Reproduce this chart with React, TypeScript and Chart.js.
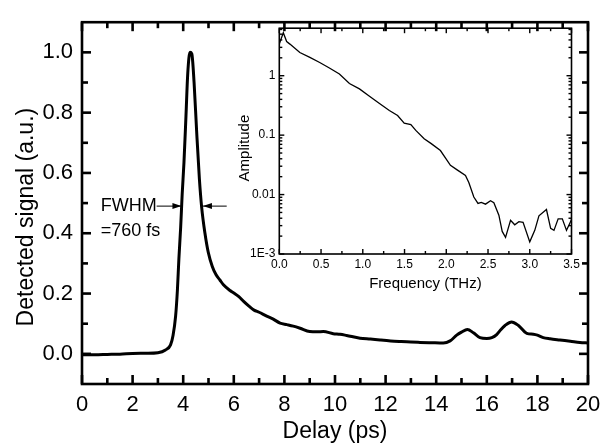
import React, { useEffect, useRef } from "react";
import { Chart, registerables } from "chart.js";

Chart.register(...registerables);

// ---------- main trace: detected signal vs delay ----------
const delayPs = [
  0, 0.5, 1, 1.5, 2, 2.5, 3, 3.3, 3.5, 3.6, 3.7, 3.77, 3.83, 3.9, 3.96, 4.03, 4.11, 4.18, 4.27, 4.34,
  4.43, 4.53, 4.64, 4.73, 4.86, 4.99, 5.15, 5.3, 5.45, 5.6, 5.85, 6.0, 6.2, 6.4, 6.6, 6.8, 7.0, 7.3,
  7.56, 7.83, 8.1, 8.35, 8.62, 9.0, 9.3, 9.54, 9.93, 10.2, 10.46, 10.99, 11.4, 11.78, 12.2, 12.57, 13.0,
  13.36, 13.8, 14.28, 14.55, 14.81, 15.0, 15.23, 15.47, 15.73, 16.0, 16.2, 16.39, 16.55, 16.72, 16.98,
  17.25, 17.58, 17.84, 18.0, 18.23, 18.5, 18.89, 19.3, 19.68, 20,
];
const signal = [
  -0.003, -0.003, -0.002, -0.001, 0.001, 0.002, 0.004, 0.013, 0.03, 0.062, 0.125, 0.21, 0.316, 0.42,
  0.53, 0.634, 0.79, 0.93, 1.0, 0.995, 0.9, 0.74, 0.58, 0.486, 0.4, 0.337, 0.29, 0.262, 0.245, 0.228,
  0.21, 0.202, 0.19, 0.173, 0.158, 0.145, 0.138, 0.125, 0.115, 0.102, 0.097, 0.092, 0.085, 0.074, 0.073,
  0.074, 0.067, 0.065, 0.061, 0.052, 0.049, 0.046, 0.043, 0.041, 0.039, 0.038, 0.037, 0.036, 0.043,
  0.062, 0.072, 0.081, 0.07, 0.054, 0.051, 0.054, 0.064, 0.08, 0.094, 0.106, 0.094, 0.068, 0.065, 0.062,
  0.054, 0.05, 0.046, 0.042, 0.038, 0.036,
];
const delayTicks = [0, 2, 4, 6, 8, 10, 12, 14, 16, 18, 20];
const delayMinorTicks = [1, 3, 5, 7, 9, 11, 13, 15, 17, 19];
const signalTicks = [0, 0.2, 0.4, 0.6, 0.8, 1.0];
const signalMinorTicks = [0.1, 0.3, 0.5, 0.7, 0.9];

// FWHM annotation (data coordinates)
const fwhmText = "FWHM";
const fwhmValueText = "=760 fs";
const fwhmLevel = 0.49;
const fwhmTextDelay = 0.74;
const fwhmValueLevel = 0.407;
const fwhmLeftArrow = [2.95, 3.93];
const fwhmRightArrow = [5.72, 4.78];

// ---------- inset: amplitude spectrum ----------
const freqTHz = [
  0, 0.048, 0.088, 0.127, 0.246, 0.366, 0.484, 0.6, 0.72, 0.84, 0.96, 1.08, 1.2, 1.318, 1.417, 1.496,
  1.576, 1.635, 1.735, 1.82, 1.93, 2.05, 2.13, 2.23, 2.27, 2.33, 2.38, 2.42, 2.47, 2.53, 2.57, 2.63,
  2.67, 2.71, 2.77, 2.82, 2.87, 2.92, 3.0, 3.06, 3.11, 3.2, 3.25, 3.29, 3.34, 3.39, 3.44, 3.48, 3.5,
];
const amplitude = [
  3.4, 5.3, 3.76, 3.4, 2.46, 2.03, 1.67, 1.35, 1.07, 0.74, 0.6, 0.45, 0.34, 0.26, 0.214, 0.159, 0.151,
  0.12, 0.087, 0.072, 0.055, 0.031, 0.026, 0.021, 0.016, 0.0091, 0.0071, 0.0074, 0.0069, 0.0079,
  0.0073, 0.0045, 0.0024, 0.0019, 0.0037, 0.0031, 0.0035, 0.0034, 0.0016, 0.0025, 0.0044, 0.0056,
  0.0027, 0.0025, 0.0039, 0.0039, 0.0025, 0.0033, 0.0038,
];
const freqTicks = [0, 0.5, 1.0, 1.5, 2.0, 2.5, 3.0, 3.5];
const freqMinorTicks = [0.25, 0.75, 1.25, 1.75, 2.25, 2.75, 3.25];
const ampTicks = [0.001, 0.01, 0.1, 1];
const ampTickLabels = ["1E-3", "0.01", "0.1", "1"];
const ampMinorTicks = [
  0.002, 0.003, 0.004, 0.005, 0.006, 0.007, 0.008, 0.009, 0.02, 0.03, 0.04, 0.05, 0.06, 0.07, 0.08,
  0.09, 0.2, 0.3, 0.4, 0.5, 0.6, 0.7, 0.8, 0.9, 2, 3, 4, 5, 6,
];

const FONT = '"Liberation Sans", Arial, Helvetica, sans-serif';

function makeFramePlugin(id: string, cfg: any) {
  return {
    id,
    afterDraw(chart: any) {
      const ctx = chart.ctx as CanvasRenderingContext2D;
      const { left, right, top, bottom } = chart.chartArea;
      const xs = chart.scales.x;
      const ys = chart.scales.y;
      const w = cfg.tickWidth;
      ctx.save();
      ctx.fillStyle = "#000";
      const xt = (v: number, len: number) => {
        const p = xs.getPixelForValue(v);
        ctx.fillRect(p - w / 2, bottom - len, w, len);
        ctx.fillRect(p - w / 2, top, w, len);
      };
      const yt = (v: number, len: number) => {
        const p = ys.getPixelForValue(v);
        ctx.fillRect(left, p - w / 2, len, w);
        ctx.fillRect(right - len, p - w / 2, len, w);
      };
      for (const v of cfg.xMajor) xt(v, cfg.majorLen);
      for (const v of cfg.xMinor) xt(v, cfg.minorLen);
      for (const v of cfg.yMajor) yt(v, cfg.majorLen);
      for (const v of cfg.yMinor) yt(v, cfg.minorLen);
      ctx.strokeStyle = "#000";
      ctx.lineWidth = cfg.frameWidth;
      ctx.strokeRect(left, top, right - left, bottom - top);

      const t = cfg.yTitle;
      ctx.font = `${t.size}px ${FONT}`;
      ctx.textAlign = "center";
      ctx.textBaseline = "middle";
      ctx.translate(left + t.dx, (top + bottom) / 2 + t.dy);
      ctx.rotate(-Math.PI / 2);
      ctx.fillText(t.text, 0, 0);
      ctx.restore();
    },
  };
}

const fwhmPlugin = {
  id: "fwhmNote",
  afterDraw(chart: any) {
    const ctx = chart.ctx as CanvasRenderingContext2D;
    const xs = chart.scales.x;
    const ys = chart.scales.y;
    ctx.save();
    ctx.fillStyle = "#000";
    ctx.strokeStyle = "#000";
    ctx.font = `18px ${FONT}`;
    ctx.textAlign = "left";
    ctx.textBaseline = "middle";
    ctx.fillText(fwhmText, xs.getPixelForValue(fwhmTextDelay), ys.getPixelForValue(fwhmLevel));
    ctx.fillText(fwhmValueText, xs.getPixelForValue(fwhmTextDelay), ys.getPixelForValue(fwhmValueLevel));
    const y = ys.getPixelForValue(fwhmLevel);
    const arrow = (a: number, b: number) => {
      const x1 = xs.getPixelForValue(a);
      const x2 = xs.getPixelForValue(b);
      ctx.lineWidth = 1;
      ctx.beginPath();
      ctx.moveTo(x1, y);
      ctx.lineTo(x2, y);
      ctx.stroke();
      const d = Math.sign(x2 - x1);
      ctx.beginPath();
      ctx.moveTo(x2, y);
      ctx.lineTo(x2 - d * 9, y - 3);
      ctx.lineTo(x2 - d * 9, y + 3);
      ctx.closePath();
      ctx.fill();
    };
    arrow(fwhmLeftArrow[0], fwhmLeftArrow[1]);
    arrow(fwhmRightArrow[0], fwhmRightArrow[1]);
    ctx.restore();
  },
};

export default function App() {
  const mainRef = useRef<HTMLCanvasElement>(null);
  const insetRef = useRef<HTMLCanvasElement>(null);

  useEffect(() => {
    const main = new Chart(mainRef.current as HTMLCanvasElement, {
      type: "line",
      data: {
        datasets: [
          {
            data: delayPs.map((t, i) => ({ x: t, y: signal[i] })),
            borderColor: "#000",
            borderWidth: 3,
            pointRadius: 0,
            fill: false,
            cubicInterpolationMode: "monotone",
          },
        ],
      },
      options: {
        animation: false,
        responsive: false,
        maintainAspectRatio: false,
        layout: { padding: { top: 7, right: 25, left: 0, bottom: 0 } },
        plugins: {
          legend: { display: false },
          tooltip: { enabled: false },
        },
        scales: {
          x: {
            type: "linear",
            min: 0,
            max: 20,
            grid: { display: false, drawTicks: false },
            border: { display: false },
            afterBuildTicks: (s: any) => {
              s.ticks = delayTicks.map((v) => ({ value: v }));
            },
            afterFit: (s: any) => {
              s.height = 63;
            },
            ticks: {
              color: "#000",
              font: { family: FONT, size: 22 },
              padding: 8,
              maxRotation: 0,
              autoSkip: false,
              callback: (v: any) => String(v),
            },
            title: {
              display: true,
              text: "Delay (ps)",
              color: "#000",
              font: { family: FONT, size: 23 },
              padding: { top: 0, bottom: 2 },
            },
          },
          y: {
            type: "linear",
            min: -0.1,
            max: 1.1,
            grid: { display: false, drawTicks: false },
            border: { display: false },
            afterBuildTicks: (s: any) => {
              s.ticks = signalTicks.map((v) => ({ value: v }));
            },
            afterFit: (s: any) => {
              s.width = 82;
            },
            ticks: {
              color: "#000",
              font: { family: FONT, size: 22 },
              padding: 9,
              callback: (v: any) => Number(v).toFixed(1),
            },
          },
        },
      },
      plugins: [
        makeFramePlugin("mainFrame", {
          xMajor: delayTicks,
          xMinor: delayMinorTicks,
          yMajor: signalTicks,
          yMinor: signalMinorTicks,
          majorLen: 9,
          minorLen: 6,
          tickWidth: 2.6,
          frameWidth: 2.6,
          yTitle: { text: "Detected signal (a.u.)", size: 23, dx: -55, dy: 14 },
        }),
        fwhmPlugin,
      ],
    } as any);

    const inset = new Chart(insetRef.current as HTMLCanvasElement, {
      type: "line",
      data: {
        datasets: [
          {
            data: freqTHz.map((f, i) => ({ x: f, y: amplitude[i] })),
            borderColor: "#000",
            borderWidth: 1.3,
            pointRadius: 0,
            fill: false,
            tension: 0,
          },
        ],
      },
      options: {
        animation: false,
        responsive: false,
        maintainAspectRatio: false,
        layout: { padding: { top: 10, right: 13.5, left: 0, bottom: 0 } },
        plugins: {
          legend: { display: false },
          tooltip: { enabled: false },
        },
        scales: {
          x: {
            type: "linear",
            min: 0,
            max: 3.5,
            grid: { display: false, drawTicks: false },
            border: { display: false },
            afterBuildTicks: (s: any) => {
              s.ticks = freqTicks.map((v) => ({ value: v }));
            },
            afterFit: (s: any) => {
              s.height = 48;
            },
            ticks: {
              color: "#000",
              font: { family: FONT, size: 12 },
              padding: 3,
              maxRotation: 0,
              autoSkip: false,
              callback: (v: any) => Number(v).toFixed(1),
            },
            title: {
              display: true,
              text: "Frequency (THz)",
              color: "#000",
              font: { family: FONT, size: 15 },
              padding: { top: 0, bottom: 9 },
            },
          },
          y: {
            type: "logarithmic",
            min: 0.001,
            max: 6.3,
            grid: { display: false, drawTicks: false },
            border: { display: false },
            afterBuildTicks: (s: any) => {
              s.ticks = ampTicks.map((v) => ({ value: v }));
            },
            afterFit: (s: any) => {
              s.width = 79.3;
            },
            ticks: {
              color: "#000",
              font: { family: FONT, size: 12 },
              padding: 4,
              autoSkip: false,
              callback: (v: any) => {
                const i = ampTicks.findIndex((t) => Math.abs(t - Number(v)) / t < 1e-6);
                return i >= 0 ? ampTickLabels[i] : "";
              },
            },
          },
        },
      },
      plugins: [
        makeFramePlugin("insetFrame", {
          xMajor: freqTicks,
          xMinor: freqMinorTicks,
          yMajor: ampTicks,
          yMinor: ampMinorTicks,
          majorLen: 5,
          minorLen: 3,
          tickWidth: 1.4,
          frameWidth: 1.6,
          yTitle: { text: "Amplitude", size: 15, dx: -34, dy: 7 },
        }),
      ],
    } as any);

    return () => {
      main.destroy();
      inset.destroy();
    };
  }, []);

  return (
    <div style={{ position: "absolute", left: 0, top: 0, width: 613, height: 447, background: "#fff" }}>
      <canvas ref={mainRef} width={613} height={447} style={{ position: "absolute", left: 0, top: 0 }} />
      <canvas ref={insetRef} width={385} height={285} style={{ position: "absolute", left: 200, top: 17 }} />
    </div>
  );
}
